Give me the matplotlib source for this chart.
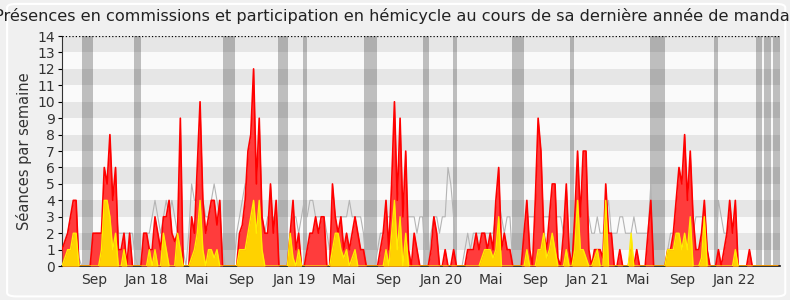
import matplotlib
matplotlib.use('Agg')
import matplotlib.pyplot as plt
from matplotlib.patches import FancyBboxPatch
import numpy as np


# weekly values (week index 0..254)
red = [1, 1.5, 2, 3, 4, 4, 0, 0, 0, 0, 0,
       2, 2, 2, 2, 6, 5, 8, 4, 6, 1,
       1, 2, 0, 2, 0, 0, 0, 0, 2, 2,
       1, 1, 3, 2, 1, 3, 3, 4, 2, 1.5,
       2, 9, 0, 0, 0, 3, 2, 6, 10, 4,
       2, 3, 4, 4, 2.5, 4, 0, 0, 0, 0,
       0, 0, 2, 2.5, 4, 7, 8, 12, 5, 9,
       3, 2, 2, 5, 2, 4, 0, 0, 0, 0,
       2, 4, 1, 2, 0, 0, 1, 2, 2, 3,
       2, 3, 3, 0, 0, 5, 3, 2, 3, 1,
       2, 1, 2, 3, 2, 1, 1, 0, 0, 0,
       0, 0, 1, 2, 4, 1, 5, 10, 4, 9,
       3, 7, 1, 0, 2, 1, 0, 0, 0, 0,
       1, 3, 2, 0, 0, 1, 0, 0, 1, 0,
       0, 0, 0, 1, 1, 1, 2, 1, 2, 2,
       1, 2, 1, 4, 6, 1, 2, 1, 1, 0,
       0, 0, 0, 2, 4, 1, 0, 4, 9, 7,
       2, 1, 3, 5, 5, 0.5, 0, 2, 5, 1,
       0, 3, 7, 3, 7, 7, 1, 0, 1, 1,
       1, 0.5, 5, 2, 2, 0, 0, 1, 0, 0,
       0, 1, 0, 1, 0, 0, 0, 2, 4, 0,
       0, 0, 0, 0, 1, 1, 2, 4, 6, 5,
       8, 4, 7, 3, 1, 1, 2, 4, 1, 0,
       0, 0, 1, 0, 1, 2, 4, 2, 4, 0,
       0, 0, 0, 1, 0, 0, 0, 0, 0, 0,
       0, 0, 0, 0]

yellow = [0, 0.5, 1, 1, 2, 2, 0, 0, 0, 0, 0,
          0, 0, 0, 1, 4, 4, 3, 1, 2, 0,
          0, 1, 0, 0, 0, 0, 0, 0, 0, 0,
          1, 0, 1, 0, 0, 2, 1, 0, 0, 0,
          2, 1, 0, 0, 0, 0.5, 1, 2, 4, 1,
          0, 1, 1, 0.5, 1, 0, 0, 0, 0, 0,
          0, 0, 1, 1, 1, 2, 3, 4, 2, 4,
          1, 0, 0, 0, 0, 0, 0, 0, 0, 0,
          2, 0.5, 0, 1, 0, 0, 0, 0, 0, 0,
          0, 0, 0, 0, 0, 1, 2, 2, 1, 0.5,
          1, 0, 0.5, 1, 0, 0, 0, 0, 0, 0,
          0, 0, 0, 0, 1, 0, 2, 4, 1, 3,
          0, 2, 0, 0, 0, 0, 0, 0, 0, 0,
          0, 0, 0, 0, 0, 0, 0, 0, 0, 0,
          0, 0, 0, 0, 0, 0, 0, 0, 0.5, 1,
          1, 1, 0.5, 1, 3, 0, 0, 0, 0, 0,
          0, 0, 0, 0, 1, 0, 0, 0, 1, 1,
          2, 0.5, 1, 2, 1, 0, 0, 0, 1, 0,
          0, 1, 4, 1, 1, 0.5, 0, 0, 0.5, 1,
          0, 0, 4, 0, 0, 0, 0, 0, 0, 0,
          0, 2, 0, 0, 0, 0, 0, 0, 0, 0,
          0, 0, 0, 0, 1, 1, 1, 2, 2, 1,
          2, 1, 3, 0, 0, 0, 0.5, 3, 0, 0,
          0, 0, 0, 0, 0, 0, 0, 0, 1, 0,
          0, 0, 0, 0, 0, 0, 0, 0, 0, 0,
          0, 0, 0, 0]

median = [1, 1.5, 2, 3, 3.5, 3.5, 0.5, 0, 0, 0, 0,
          1, 2, 2, 2, 3, 4, 5, 5, 4, 2,
          2, 2, 2, 2, 2, 0.5, 0, 0, 2, 2,
          2, 3, 4, 3, 2, 3, 4, 3, 4, 3,
          2, 2, 1, 0, 2, 5, 4, 4, 5, 4,
          3, 3, 4, 5, 4, 3, 1, 0, 0, 0,
          0, 2, 3, 4, 5, 5, 5, 5, 5, 4,
          3, 2, 3, 3, 3, 2, 0, 0, 0, 0,
          2, 3, 3, 2, 3, 4, 3, 4, 4, 3,
          3, 3, 3, 2, 1, 3, 3, 3, 3, 3,
          3, 4, 3, 3, 3, 3, 2, 0, 0, 0,
          0, 1, 2, 2, 3, 3, 3, 3, 3, 3,
          3, 3, 3, 3, 3, 2, 3, 3, 0, 0,
          2, 3, 3, 2, 3, 3, 6, 5, 3, 0,
          0, 0, 1, 2, 1, 2, 2, 2, 2, 2,
          2, 2, 2, 3, 4, 3, 2, 3, 3, 0,
          0, 0, 0, 1, 3, 3, 3, 3, 4, 3,
          3, 3, 3, 3, 3, 3, 3, 2, 3, 1,
          0, 2, 3, 3, 3, 3, 3, 2, 2, 3,
          2, 2, 3, 4, 2, 2, 2, 3, 3, 2,
          2, 2, 3, 2, 2, 2, 2, 2, 5, 0,
          0, 0, 0, 0, 1, 2, 2, 2, 3, 3,
          3, 3, 3, 2, 3, 3, 3, 3, 1, 0,
          0, 0, 4, 3, 2, 2, 2, 2, 1, 0,
          0, 0, 0, 0, 0, 0, 0, 0, 0, 0,
          0, 0, 0, 0]

# holidays (start week, end week)
vacances = [(7, 11), (25.6, 28), (57, 61.4), (76.6, 80.1), (85.6, 87),
            (107.2, 111.7), (128.2, 130.3), (138.8, 140.2), (159.7, 164),
            (180.3, 181.7), (208.7, 214), (231.5, 232.9), (246.4, 248.5),
            (249.2, 251.7), (252.4, 255)]

tick_weeks = [11.3, 29.9, 47.8, 63.5, 82.4, 100.1, 115.7, 134.5,
              152.2, 167.9, 186.4, 204.5, 220.1, 238.6]
tick_labels = ['Sep', 'Jan 18', 'Mai', 'Sep', 'Jan 19', 'Mai', 'Sep', 'Jan 20',
               'Mai', 'Sep', 'Jan 21', 'Mai', 'Sep', 'Jan 22']

weeks = np.arange(len(red))


# initial the figure
fig = plt.figure(figsize=(7.9, 3.0), dpi=100, facecolor='#f0f0f0')
fig.patches.append(FancyBboxPatch((0.009, 0.012), 0.985, 0.975,
                                  boxstyle='round,pad=0,rounding_size=0.012',
                                  transform=fig.transFigure, facecolor='#f0f0f0',
                                  edgecolor='#ffffff', lw=1.5, zorder=-1))
ax = fig.add_axes([0.0785, 0.113, 0.909, 0.767])
ax.set_facecolor('#fafafa')

# stripes
for k in range(14):
    if k % 2 == 1:
        ax.axhspan(k, k + 1, color='#e6e6e6', lw=0, zorder=0)

# holidays
for start, end in vacances:
    ax.axvspan(start, end, color='black', alpha=0.24, lw=0, zorder=1)

# plot data
ax.plot(weeks, median, color='#b4b4b4', lw=0.8, zorder=2)
ax.fill_between(weeks, red, color='#ff3c3c', lw=0, zorder=3)
ax.plot(weeks, red, color='#ff0000', lw=1.2, zorder=4)
ax.fill_between(weeks, yellow, color='#ffd200', lw=0, zorder=5)
ax.plot(weeks, yellow, color='#ffee00', lw=1, zorder=6)

ax.axhline(14, color='black', ls=':', lw=0.9, zorder=7)


# figure settings
fig.suptitle('Présences en commissions et participation en hémicycle au cours de sa dernière année de mandat',
             fontsize=11.6, y=0.975, va='top', color='#222222')
ax.set_ylabel('Séances par semaine', fontsize=10.5, color='#333333', labelpad=4)
ax.set_xlim([0, 254.9])
ax.set_ylim([0, 14])
ax.set_yticks(range(15))
ax.set_xticks(tick_weeks)
ax.set_xticklabels(tick_labels)
ax.tick_params(axis='x', length=0, pad=5, labelsize=10, labelcolor='#333333')
ax.tick_params(axis='y', length=3, pad=2, labelsize=10, labelcolor='#333333')
for side in ['top', 'right']:
    ax.spines[side].set_visible(False)
ax.spines['left'].set_color('#333333')
ax.spines['bottom'].set_color('#111111')
ax.spines['bottom'].set_linewidth(1.2)

fig.savefig('out.png', dpi=100, facecolor=fig.get_facecolor())
